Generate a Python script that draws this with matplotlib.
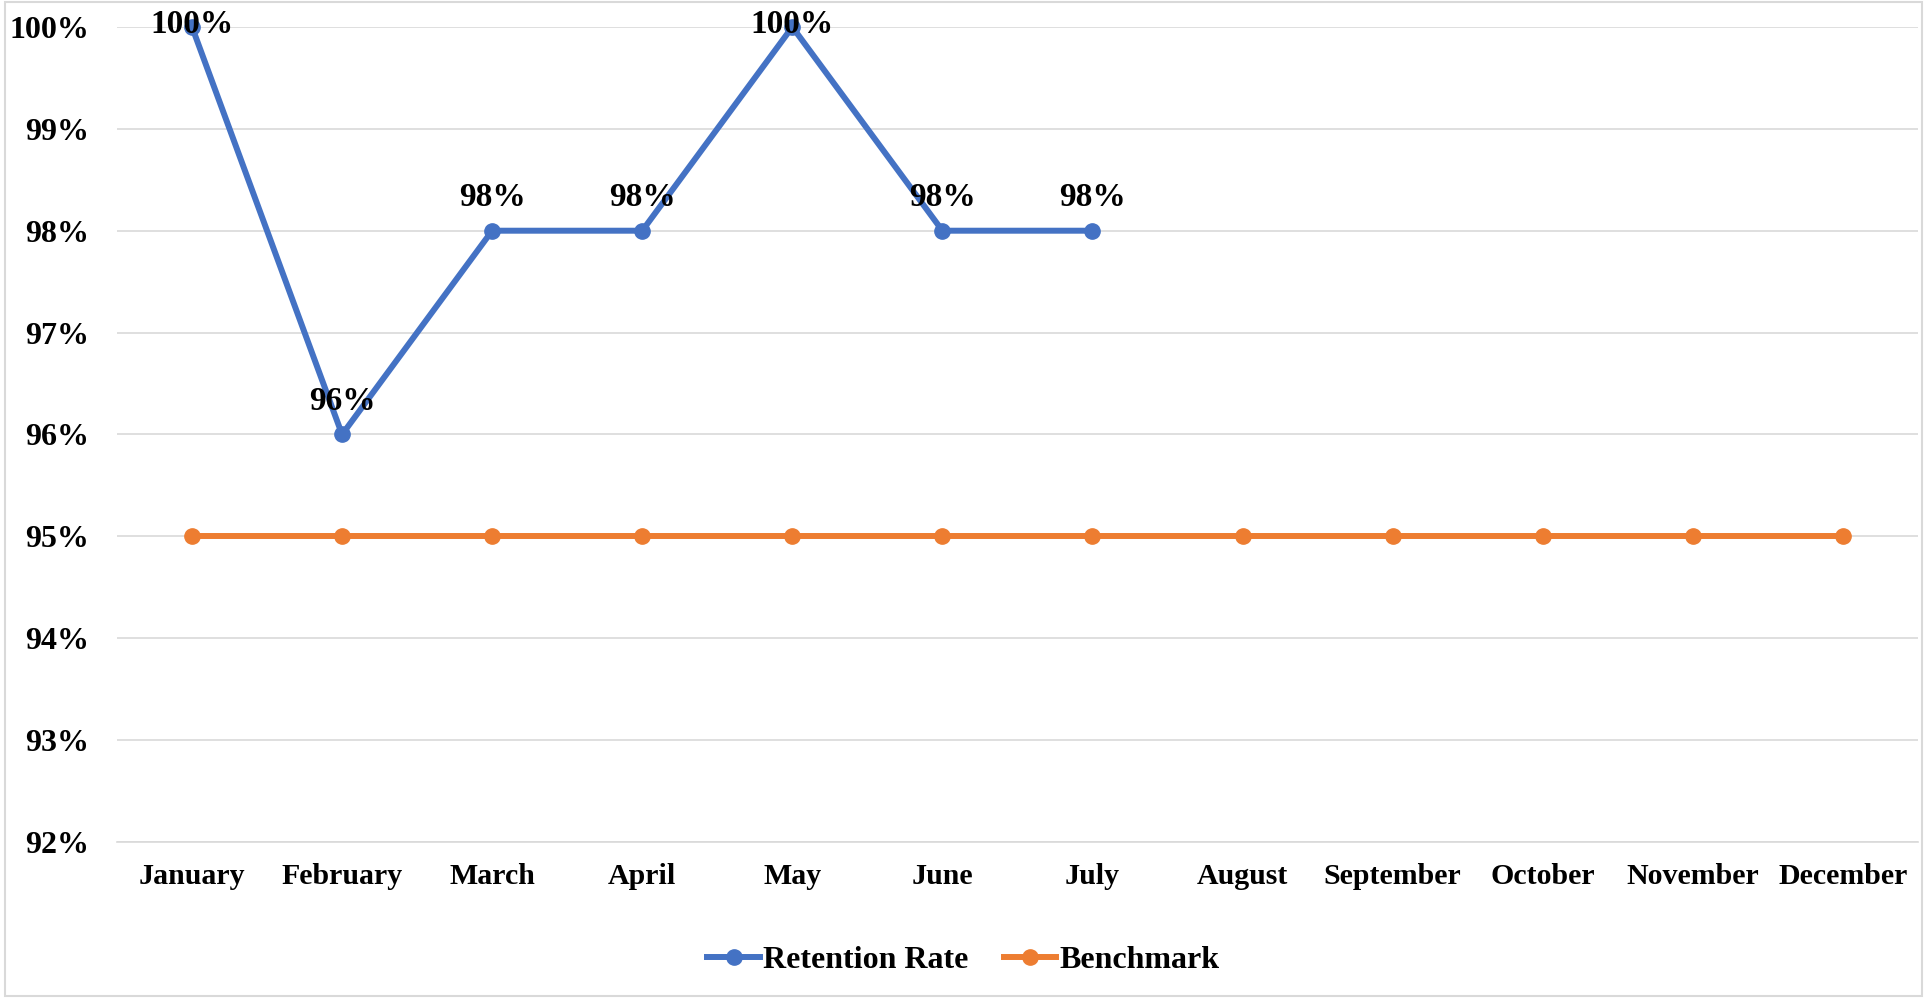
import matplotlib.pyplot as plt
from matplotlib.patches import Rectangle
from matplotlib.ticker import FuncFormatter

months = ["January", "February", "March", "April", "May", "June",
          "July", "August", "September", "October", "November", "December"]
retention = [100, 96, 98, 98, 100, 98, 98]
benchmark = [95] * 12

blue = "#4472C4"
orange = "#ED7D31"
grid = "#D9D9D9"

plt.rcParams["font.family"] = ["Liberation Serif", "DejaVu Serif"]
plt.rcParams["font.weight"] = "bold"

fig = plt.figure(figsize=(19.27, 9.98), dpi=100)
ax = fig.add_axes([0.0607, 0.1563, 0.9346, 0.8167])

x_ret = list(range(len(retention)))
x_ben = list(range(len(benchmark)))

ax.plot(x_ret, retention, color=blue, lw=4.3, marker="o", ms=11,
        label="Retention Rate", zorder=3, clip_on=False)
ax.plot(x_ben, benchmark, color=orange, lw=4.3, marker="o", ms=11,
        label="Benchmark", zorder=3, clip_on=False)

# data labels above the retention points (pushed down at the top edge)
for xi, v in zip(x_ret, retention):
    off = 2 if v >= 100 else 24
    ax.annotate(f"{v}%", (xi, v), xytext=(0, off), textcoords="offset points",
                ha="center", va="center", fontsize=24, fontweight="bold",
                annotation_clip=False, zorder=4)

ax.set_xlim(-0.5, len(months) - 0.5)
ax.set_ylim(92, 100)
ax.set_yticks(range(92, 101))
ax.yaxis.set_major_formatter(FuncFormatter(lambda v, p: f"{v:.0f}%"))
ax.set_xticks(x_ben)
ax.set_xticklabels(months)

ax.grid(axis="y", color=grid, lw=1.2)
ax.set_axisbelow(True)
for s in ["top", "right", "left"]:
    ax.spines[s].set_visible(False)
ax.spines["bottom"].set_color(grid)
ax.spines["bottom"].set_linewidth(1.2)
ax.tick_params(axis="y", length=0, pad=20, labelsize=23)
ax.tick_params(axis="x", length=0, pad=15, labelsize=21.5)
for lbl in ax.get_xticklabels() + ax.get_yticklabels():
    lbl.set_fontweight("bold")

fig.legend(loc="center", bbox_to_anchor=(0.5, 0.038), ncol=2, frameon=False,
           prop={"size": 23, "weight": "bold"}, handlelength=1.65,
           handletextpad=0.1, columnspacing=1.1)

# outer chart border
fig.patches.append(Rectangle((0.0026, 0.002), 0.9948, 0.996, transform=fig.transFigure,
                             fill=False, edgecolor=grid, lw=1.5))

fig.savefig("out.png", dpi=100)
